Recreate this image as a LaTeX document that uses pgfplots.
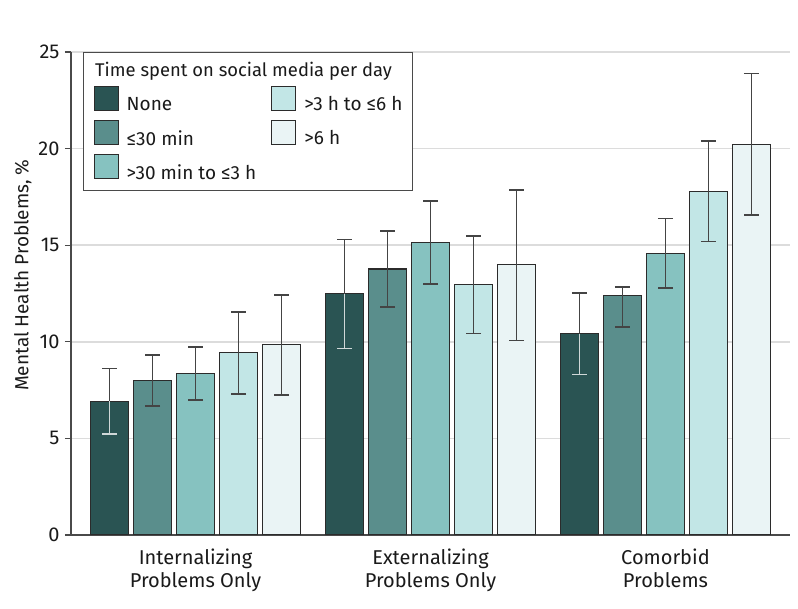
\documentclass[border=0pt]{standalone}
\usepackage{fontspec}
\setmainfont{Fira Sans}
\usepackage{pgfplots}
\pgfplotsset{compat=1.18}
\definecolor{cA}{HTML}{2A5453}
\definecolor{cB}{HTML}{5A8E8C}
\definecolor{cC}{HTML}{86C2C0}
\definecolor{cD}{HTML}{C2E6E6}
\definecolor{cE}{HTML}{EAF4F5}
\definecolor{edgec}{HTML}{2B2B2B}
\definecolor{errc}{HTML}{444444}
\definecolor{errlight}{HTML}{D0D8D8}
\definecolor{gridc}{HTML}{DCDCDC}
\definecolor{axc}{HTML}{4A4A4A}
\definecolor{txtc}{HTML}{1A1A1A}
\newcommand{\tickfont}{\fontsize{20}{23}\selectfont}
\newcommand{\legfont}{\fontsize{19}{23}\selectfont}
\newcommand{\titfont}{\fontsize{18.4}{23}\selectfont}
\newcommand{\labfont}{\fontsize{19}{23}\selectfont}
\pgfplotsset{
  errstyle/.style 2 args={
    /pgfplots/error bars/y explicit, /pgfplots/error bars/y dir=#1, /pgfplots/error bars/error mark=-,
    /pgfplots/error bars/error bar style={line width=1.7pt, draw=#2},
    /pgfplots/error bars/error mark options={line width=1.7pt, mark size=7.5pt, draw=#2, rotate=90}},
  barsty/.style={draw=edgec, line width=1.1pt, fill=#1},
}
\begin{document}
\begin{tikzpicture}
\begin{axis}[
  name=ax,
  scale only axis, width=719pt, height=483pt,
  xmin=-0.53, xmax=2.53, ymin=0, ymax=25,
  ybar, bar width=0.16,
  xtick={0,1,2},
  xticklabels={{Internalizing\\Problems Only},{Externalizing\\Problems Only},{Comorbid\\Problems}},
  ytick={0,5,10,15,20,25},
  axis x line*=bottom, axis y line*=left,
  x axis line style={draw=axc, line width=1.3pt},
  y axis line style={draw=axc, line width=1.2pt},
  ymajorgrids, grid style={draw=gridc, line width=1.5pt},
  xtick style={draw=none},
  ytick style={draw=axc, line width=1.2pt},
  major tick length=6pt, tick align=outside,
  tick label style={font=\tickfont, text=txtc},
  xticklabel style={align=center, yshift=-4pt},
  yticklabel style={xshift=-2pt},
  /pgf/number format/assume math mode=true,
  ylabel={Mental Health Problems, \%},
  every axis y label/.style={at={(rel axis cs:0,0.538)}, rotate=90, anchor=south, yshift=36pt, font=\labfont, text=txtc},
  legend columns=2,
  legend cell align=left,
  legend image code/.code={\draw[#1] (0pt,-6pt) rectangle (24pt,18pt);},
  legend style={at={(rel axis cs:0.0167,1)}, anchor=north west, draw=axc, line width=1.2pt,
    font=\legfont, text=txtc, inner xsep=10pt, inner ysep=10pt, row sep=7.5pt,
    nodes={inner sep=0pt},
    /tikz/every odd column/.style={column sep=8pt},
    /tikz/every even column/.style={column sep=15pt}},
]
% None
\addplot[barsty=cA, bar shift=-0.366, forget plot, errstyle={plus}{errc}] coordinates {
 (0,6.92) += (0,1.69) -= (0,1.68)
 (1,12.49) += (0,2.80) -= (0,2.84)
 (2,10.41) += (0,2.10) -= (0,2.11)};
\addplot[draw=none, fill=none, bar shift=-0.366, forget plot, errstyle={minus}{errlight}] coordinates {
 (0,6.92) += (0,1.69) -= (0,1.68)
 (1,12.49) += (0,2.80) -= (0,2.84)
 (2,10.41) += (0,2.10) -= (0,2.11)};
% <=30 min
\addplot[barsty=cB, bar shift=-0.183, forget plot, errstyle={both}{errc}] coordinates {
 (0,8.01) += (0,1.29) -= (0,1.32)
 (1,13.77) += (0,1.97) -= (0,1.97)
 (2,12.39) += (0,0.44) -= (0,1.63)};
% >30 min to <=3 h
\addplot[barsty=cC, bar shift=0, forget plot, errstyle={both}{errc}] coordinates {
 (0,8.34) += (0,1.38) -= (0,1.37)
 (1,15.12) += (0,2.15) -= (0,2.13)
 (2,14.58) += (0,1.80) -= (0,1.81)};
% >3 h to <=6 h
\addplot[barsty=cD, bar shift=0.183, forget plot, errstyle={both}{errc}] coordinates {
 (0,9.43) += (0,2.13) -= (0,2.13)
 (1,12.96) += (0,2.52) -= (0,2.53)
 (2,17.80) += (0,2.61) -= (0,2.61)};
% >6 h
\addplot[barsty=cE, bar shift=0.366, forget plot, errstyle={both}{errc}] coordinates {
 (0,9.84) += (0,2.60) -= (0,2.59)
 (1,13.98) += (0,3.89) -= (0,3.91)
 (2,20.22) += (0,3.67) -= (0,3.65)};
\addlegendimage{empty legend}
\addlegendentry{\makebox[0pt][l]{\hspace{-32pt}\titfont Time spent on social media per day}}
\addlegendimage{empty legend}
\addlegendentry{}
\addlegendimage{barsty=cA}
\addlegendentry{None}
\addlegendimage{barsty=cD}
\addlegendentry{>3 h to ≤6 h}
\addlegendimage{barsty=cB}
\addlegendentry{≤30 min}
\addlegendimage{barsty=cE}
\addlegendentry{>6 h}
\addlegendimage{barsty=cC}
\addlegendentry{>30 min to ≤3 h}
\end{axis}
\pgfresetboundingbox
\path ([shift={(-71pt,-74pt)}]ax.south west) rectangle ([shift={(8pt,52pt)}]ax.north east);
\end{tikzpicture}
\end{document}
